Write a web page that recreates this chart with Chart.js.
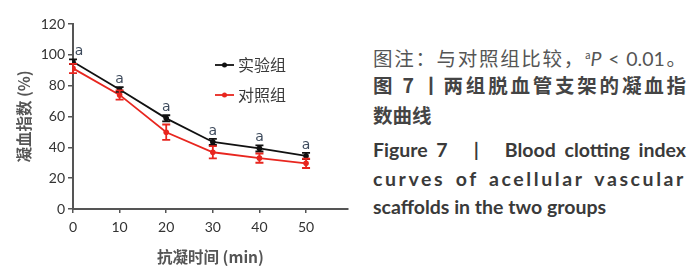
<!DOCTYPE html>
<html>
<head>
<meta charset="utf-8">
<script src="https://cdn.jsdelivr.net/npm/chart.js@4.4.0/dist/chart.umd.min.js"></script>
<style>
  html, body { margin: 0; padding: 0; background: #fff; }
  #wrap { position: relative; width: 700px; height: 279px; overflow: hidden; }
  #cv { position: absolute; left: 0; top: 0; }
  .cap { position: absolute; left: 373px; width: 313px; color: #555; white-space: nowrap; }
  .zh { font-family: "Noto Sans CJK SC", sans-serif; font-size: 19.5px; line-height: 24px; }
  .en { font-family: Lato, "Open Sans", sans-serif; font-weight: bold; font-size: 19.5px; line-height: 24px; color: #3a3a3a; }
  .just { text-align: justify; text-align-last: justify; }
</style>
</head>
<body>
<div id="wrap">
  <canvas id="cv" width="360" height="279"></canvas>
  <div class="cap zh just" style="top:43px;">图注：与对照组比较，<sup style="font-size:10px;vertical-align:7px;">a</sup><i style="font-family:Lato,sans-serif;">P</i><span style="font-family:Lato,sans-serif;"> &lt; 0.01</span>。</div>
  <div class="cap zh just" style="top:73px;color:#444;font-weight:bold;">图 7 丨两组脱血管支架的凝血指</div>
  <div class="cap zh" style="top:103px;color:#444;font-weight:bold;">数曲线</div>
  <div class="cap en just" style="top:138px;">Figure 7 &nbsp; | &nbsp; Blood clotting index</div>
  <div class="cap en just" style="top:167px;letter-spacing:2.6px;">curves of acellular vascular</div>
  <div class="cap en" style="top:195px;">scaffolds in the two groups</div>
</div>
<script>
const timePoints = [0, 10, 20, 30, 40, 50];
const expValues = [95.5, 77.5, 58.8, 43.5, 39.3, 34.4];
const expErrors = [1.5, 1.5, 2, 2, 2, 2];
const ctrlValues = [91.2, 74.0, 49.8, 36.8, 33.0, 29.6];
const ctrlErrors = [3, 3, 5, 4, 3, 3];
const yTicks = [0, 20, 40, 60, 80, 100, 120];
const seriesNames = ['实验组', '对照组'];
const sigLabel = 'a';

const extras = {
  id: 'extras',
  afterDatasetsDraw(chart) {
    const ctx = chart.ctx;
    const xs = chart.scales.x, ys = chart.scales.y;
    const sets = [
      { vals: expValues, errs: expErrors, color: '#111' },
      { vals: ctrlValues, errs: ctrlErrors, color: '#e8261f' }
    ];
    ctx.save();
    sets.forEach(s => {
      ctx.strokeStyle = s.color;
      ctx.lineWidth = 1.8;
      s.vals.forEach((v, i) => {
        const x = xs.getPixelForValue(timePoints[i]);
        const y1 = ys.getPixelForValue(v + s.errs[i]);
        const y2 = ys.getPixelForValue(v - s.errs[i]);
        ctx.beginPath();
        ctx.moveTo(x, y1); ctx.lineTo(x, y2);
        ctx.moveTo(x - 4, y1); ctx.lineTo(x + 4, y1);
        ctx.moveTo(x - 4, y2); ctx.lineTo(x + 4, y2);
        ctx.stroke();
      });
    });
    // significance labels
    ctx.fillStyle = '#3d4a5c';
    ctx.font = '14px "DejaVu Sans", sans-serif';
    ctx.textAlign = 'center';
    ctx.textBaseline = 'alphabetic';
    expValues.forEach((v, i) => {
      const x = xs.getPixelForValue(timePoints[i]) + (i === 0 ? 6 : 0);
      const y = ys.getPixelForValue(v + expErrors[i]) - 4;
      ctx.fillText(sigLabel, x, y);
    });
    // legend
    const leg = [
      { name: seriesNames[0], color: '#111', y: 65 },
      { name: seriesNames[1], color: '#e8261f', y: 95 }
    ];
    ctx.font = '16px "Noto Sans CJK SC", sans-serif';
    ctx.textAlign = 'left';
    ctx.textBaseline = 'middle';
    leg.forEach(l => {
      ctx.strokeStyle = l.color; ctx.fillStyle = l.color; ctx.lineWidth = 1.8;
      ctx.beginPath(); ctx.moveTo(215, l.y); ctx.lineTo(234, l.y); ctx.stroke();
      ctx.beginPath(); ctx.arc(224.5, l.y, 2.5, 0, Math.PI * 2); ctx.fill();
      ctx.fillStyle = '#3a3a3a';
      ctx.fillText(l.name, 238, l.y);
    });
    ctx.restore();
  }
};

new Chart(document.getElementById('cv'), {
  type: 'line',
  data: {
    datasets: [
      { label: seriesNames[0], data: timePoints.map((t, i) => ({ x: t, y: expValues[i] })),
        borderColor: '#111', backgroundColor: '#111', borderWidth: 1.8, pointRadius: 2.8, pointBorderWidth: 0, tension: 0 },
      { label: seriesNames[1], data: timePoints.map((t, i) => ({ x: t, y: ctrlValues[i] })),
        borderColor: '#e8261f', backgroundColor: '#e8261f', borderWidth: 1.8, pointRadius: 2.8, pointBorderWidth: 0, tension: 0 }
    ]
  },
  options: {
    responsive: false,
    animation: false,
    devicePixelRatio: 1,
    layout: { padding: { left: 0, right: 12, top: 24, bottom: 0 } },
    plugins: { legend: { display: false }, tooltip: { enabled: false } },
    scales: {
      x: {
        type: 'linear', min: 0, max: 59,
        afterBuildTicks: a => { a.ticks = timePoints.map(v => ({ value: v })); },
        afterFit: s => { s.height = 70; },
        grid: { drawOnChartArea: false, drawTicks: true, tickLength: 4, color: '#555', lineWidth: 1.5 },
        border: { display: true, color: '#555', width: 2 },
        ticks: { color: '#333', font: { family: 'Lato', size: 14 }, padding: 6, maxRotation: 0 },
        title: { display: true, text: '抗凝时间 (min)', color: '#555', font: { family: '"Noto Sans CJK SC"', size: 15.5, weight: 'bold' }, padding: { top: 0, bottom: 13 } }
      },
      y: {
        min: 0, max: 120,
        afterBuildTicks: a => { a.ticks = yTicks.map(v => ({ value: v })); },
        afterFit: s => { s.width = 73; },
        grid: { drawOnChartArea: false, drawTicks: true, tickLength: 5, color: '#555', lineWidth: 1.5 },
        border: { display: true, color: '#555', width: 2 },
        ticks: { color: '#333', font: { family: 'Lato', size: 14 }, padding: 3 },
        title: { display: true, text: '凝血指数 (%)', color: '#555', font: { family: '"Noto Sans CJK SC"', size: 15.5, weight: 'bold' }, padding: { top: 15, bottom: 0 } }
      }
    }
  },
  plugins: [extras]
});
</script>
</body>
</html>
